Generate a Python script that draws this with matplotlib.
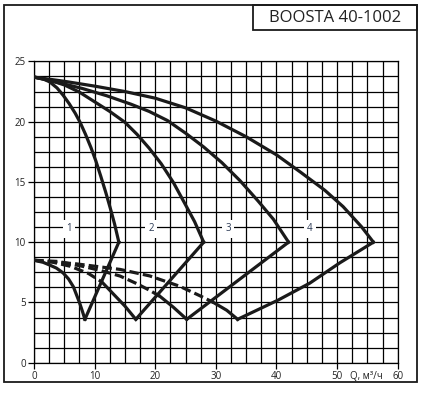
import matplotlib.pyplot as plt
from matplotlib.patches import Rectangle

# head curves H(Q), 1..4 pumps working
q_top_1 = [0, 1.5, 2.6, 3.8, 4.8, 5.8, 6.8, 7.6, 8.5, 9.4, 10.2, 11.0, 11.8, 12.6, 13.3, 14.0]
h_top_1 = [23.7, 23.55, 23.3, 22.8, 22.2, 21.5, 20.7, 19.95, 18.95, 17.85, 16.75, 15.5, 14.2, 12.8, 11.5, 10.0]
q_top_2 = [0, 2.5, 5, 7.5, 10, 12.5, 15, 17, 19, 21, 23, 25, 26.5, 28]
h_top_2 = [23.7, 23.45, 23.05, 22.45, 21.65, 20.85, 19.95, 18.95, 17.8, 16.5, 14.95, 13.1, 11.7, 10.0]
q_top_3 = [0, 4, 8, 12, 16, 19, 22, 25, 28, 31, 34, 37, 39.5, 42]
h_top_3 = [23.7, 23.25, 22.75, 22.15, 21.45, 20.85, 20.1, 19.05, 17.9, 16.6, 15.1, 13.4, 11.9, 10.0]
q_top_4 = [0, 5, 10, 15, 20, 25, 30, 35, 40, 44, 48, 51, 54, 56]
h_top_4 = [23.7, 23.35, 22.95, 22.5, 21.95, 21.15, 20.05, 18.75, 17.25, 15.8, 14.3, 12.95, 11.3, 10.0]

# right-hand branch (max flow -> min point)
q_back_1 = [14, 8.4]
h_back_1 = [10, 3.6]
q_back_2 = [28, 16.8]
h_back_2 = [10, 3.6]
q_back_3 = [42, 25.2]
h_back_3 = [10, 3.6]
q_back_4 = [56, 50.5, 45.5, 40.3, 33.6]
h_back_4 = [10, 8.3, 6.6, 5.2, 3.6]

# lower branch (Q=0 -> min point), dashed up to index in splits
q_low_1 = [0, 1.5, 2.6, 3.7, 4.8, 5.7, 6.5, 7.0, 7.5, 8.0, 8.4]
h_low_1 = [8.5, 8.33, 8.1, 7.85, 7.45, 6.95, 6.3, 5.65, 5.0, 4.25, 3.6]
q_low_2 = [0, 3, 6, 9, 11.2, 13, 15, 16.8]
h_low_2 = [8.5, 8.35, 8.0, 7.4, 6.7, 5.75, 4.7, 3.6]
q_low_3 = [0, 4, 8, 11, 14.2, 17, 19.1, 20.8, 23, 25.2]
h_low_3 = [8.5, 8.4, 8.0, 7.65, 7.19, 6.55, 6.0, 5.5, 4.6, 3.6]
q_low_4 = [0, 7, 14.2, 19.1, 24, 27.4, 29.6, 31.8, 33.6]
h_low_4 = [8.5, 8.2, 7.74, 7.2, 6.35, 5.55, 5.0, 4.35, 3.6]
splits = [0, 4, 7, 6]

labels = ["1", "2", "3", "4"]
label_q = [5.8, 19.3, 32, 45.5]
label_h = 11.1

fig = plt.figure(figsize=(4.27, 3.98), dpi=100)
ax = fig.add_axes([0.0796, 0.0887, 0.8517, 0.757])

ink = "#1a1a1a"
lw = 2.3

for q, h in [(q_top_1, h_top_1), (q_top_2, h_top_2), (q_top_3, h_top_3), (q_top_4, h_top_4)]:
    ax.plot(q, h, color=ink, lw=lw, solid_joinstyle="round", zorder=3)
for q, h in [(q_back_1, h_back_1), (q_back_2, h_back_2), (q_back_3, h_back_3), (q_back_4, h_back_4)]:
    ax.plot(q, h, color=ink, lw=lw, solid_joinstyle="round", zorder=3)

lows = [(q_low_1, h_low_1), (q_low_2, h_low_2), (q_low_3, h_low_3), (q_low_4, h_low_4)]
for (q, h), s in zip(lows, splits):
    if s > 0:
        ax.plot(q[:s + 1], h[:s + 1], color=ink, lw=lw, ls=(0, (3.0, 1.3)), zorder=3)
    ax.plot(q[s:], h[s:], color=ink, lw=lw, solid_joinstyle="round", zorder=3)

for t, x in zip(labels, label_q):
    ax.text(x, label_h, t, ha="center", va="center", fontsize=7, color="#2b3a55",
            family="Open Sans", zorder=4,
            bbox=dict(boxstyle="square,pad=0.35", fc="white", ec="none"))

ax.set_xlim(0, 60)
ax.set_ylim(0, 25)
ax.set_xticks(range(0, 61, 10))
ax.set_yticks(range(0, 26, 5))
ax.set_xticks([i * 2.5 for i in range(25)], minor=True)
ax.set_yticks([i * 1.25 for i in range(21)], minor=True)
ax.grid(True, which="both", color="black", lw=0.9, zorder=1)
ax.tick_params(which="major", length=4, width=0.9, color="black", pad=2,
               labelsize=7, labelcolor="#222222")
ax.tick_params(which="minor", length=0)
for lab in ax.get_xticklabels() + ax.get_yticklabels():
    lab.set_family("Open Sans")
for sp in ax.spines.values():
    sp.set_linewidth(0.9)
ax.set_axisbelow(True)

ax.text(-0.3, 1.015, "H, м", transform=ax.get_yaxis_transform(), ha="left", va="bottom",
        fontsize=7, color="#222222", family="Open Sans")
ax.annotate("Q, м³/ч", xy=(54.8, 0), xycoords=("data", "axes fraction"),
            xytext=(0, -6), textcoords="offset points", ha="center", va="top",
            fontsize=7, color="#222222", family="Open Sans")

# outer frame and title box
fig.patches.append(Rectangle((0.0094, 0.041), 0.9666, 0.946, transform=fig.transFigure,
                             fill=False, ec=ink, lw=1.3))
fig.patches.append(Rectangle((0.5925, 0.9246), 0.3835, 0.0624, transform=fig.transFigure,
                             fill=False, ec=ink, lw=1.3))
fig.text(0.784, 0.956, "BOOSTA 40-1002", ha="center", va="center", fontsize=12,
         color="#222222", family="Open Sans")

fig.savefig("out.png", dpi=100)
